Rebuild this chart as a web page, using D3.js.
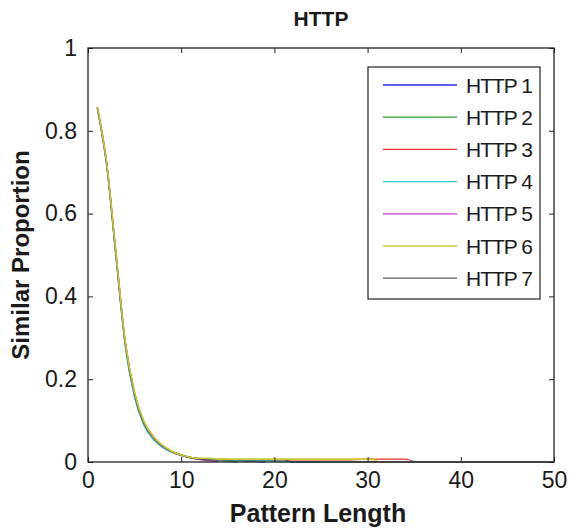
<!DOCTYPE html>
<html>
<head>
<meta charset="utf-8">
<script src="https://cdnjs.cloudflare.com/ajax/libs/d3/7.8.5/d3.min.js"></script>
<style>
  body { margin: 0; background: #fff; }
  text { font-family: "Liberation Sans", Arial, sans-serif; fill: #1a1a1a; }
</style>
</head>
<body>
<div id="chart"></div>
<script>
// similar proportion by pattern length (x = 1, 2, 3, ...)
var http1 = [0.855, 0.718, 0.497, 0.282, 0.158, 0.090, 0.056, 0.036, 0.024, 0.016, 0.010, 0.007,
             0.006, 0.005, 0.004, 0.003, 0.002, 0.001, 0];
var http2 = [0.856, 0.721, 0.501, 0.287, 0.163, 0.094, 0.058, 0.038, 0.025, 0.017, 0.011, 0.008,
             0.006, 0.004, 0.002, 0];
var http3 = [0.857, 0.723, 0.505, 0.290, 0.167, 0.097, 0.062, 0.040, 0.026, 0.017, 0.011, 0.008,
             0.007, 0.006, 0.006, 0.005, 0.005, 0.005, 0.005, 0.005, 0.005, 0.005, 0.005, 0.005,
             0.005, 0.005, 0.005, 0.005, 0.006, 0.007, 0.007, 0.007, 0.007, 0.007, 0.001];
var http4 = [0.853, 0.716, 0.494, 0.280, 0.156, 0.089, 0.055, 0.036, 0.024, 0.016, 0.010, 0.007,
             0.006, 0.005, 0.005, 0.004, 0.004, 0.003, 0.003, 0.002, 0.001, 0, 0, 0, 0];
var http5 = [0.857, 0.722, 0.503, 0.289, 0.166, 0.097, 0.061, 0.039, 0.025, 0.016, 0.010, 0.006,
             0.003, 0.001];
var http6 = [0.858, 0.724, 0.506, 0.291, 0.168, 0.098, 0.061, 0.040, 0.026, 0.017, 0.011, 0.009,
             0.009, 0.007, 0.007, 0.007, 0.007, 0.007, 0.007, 0.007, 0.007, 0.007, 0.007, 0.007,
             0.007, 0.007, 0.007, 0.007, 0.007, 0.007, 0.004];
var http7 = [0.855, 0.720, 0.500, 0.285, 0.162, 0.093, 0.058, 0.038, 0.025, 0.017, 0.010, 0.007,
             0.005, 0.005, 0.005, 0.005, 0.005, 0.005, 0.005, 0.005, 0.005, 0, 0, 0, 0,
             0, 0, 0, 0, 0, 0, 0, 0, 0, 0, 0, 0, 0, 0, 0, 0, 0, 0, 0, 0, 0, 0, 0, 0, 0];

var seriesNames = ["HTTP 1", "HTTP 2", "HTTP 3", "HTTP 4", "HTTP 5", "HTTP 6", "HTTP 7"];
var seriesColors = ["#2b2bf0", "#2e9a2e", "#f03333", "#2ec8c8", "#c83cc8", "#c8c82e", "#5a5a5a"];
var seriesValues = [http1, http2, http3, http4, http5, http6, http7];
// the yellow trace sits on top of the others in the picture
var drawOrder = [0, 1, 2, 3, 4, 6, 5];

var xTicks = [0, 10, 20, 30, 40, 50];
var yTicks = [0, 0.2, 0.4, 0.6, 0.8, 1];

var W = 569, H = 529;
var plotL = 88, plotR = 554, plotT = 48, plotB = 462;

var svg = d3.select("#chart").append("svg")
  .attr("width", W)
  .attr("height", H);

var x = d3.scaleLinear().domain([0, 50]).range([plotL, plotR]);
var y = d3.scaleLinear().domain([0, 1]).range([plotB, plotT]);

// lines
var line = d3.line()
  .x(function (d, i) { return x(i + 1); })
  .y(function (d) { return y(d); })
  .curve(d3.curveMonotoneX);

svg.append("g")
  .selectAll("path")
  .data(drawOrder)
  .enter()
  .append("path")
  .attr("d", function (k) { return line(seriesValues[k]); })
  .attr("fill", "none")
  .attr("stroke", function (k) { return seriesColors[k]; })
  .attr("stroke-width", function (k) { return k === 5 ? 1.6 : 1.3; });

// axes (matlab style: ticks inside, box all round)
var tickLen = 5;
svg.append("g")
  .attr("transform", "translate(0," + plotB + ")")
  .call(d3.axisBottom(x).tickValues(xTicks).tickSize(-tickLen).tickPadding(10)
        .tickFormat(d3.format("d")));
svg.append("g")
  .attr("transform", "translate(0," + plotT + ")")
  .call(d3.axisTop(x).tickValues(xTicks).tickSize(-tickLen).tickFormat(""));
svg.append("g")
  .attr("transform", "translate(" + plotL + ",0)")
  .call(d3.axisLeft(y).tickValues(yTicks).tickSize(-tickLen).tickPadding(11)
        .tickFormat(function (d) { return d === 0 || d === 1 ? d3.format("d")(d) : d3.format(".1f")(d); }));
svg.append("g")
  .attr("transform", "translate(" + plotR + ",0)")
  .call(d3.axisRight(y).tickValues(yTicks).tickSize(-tickLen).tickFormat(""));

svg.selectAll(".domain").remove();
svg.selectAll(".tick line").attr("stroke", "#222").attr("stroke-width", 1);
svg.selectAll(".tick text")
  .style("font-size", "23px")
  .style("font-family", "'Liberation Sans', Arial, sans-serif")
  .attr("fill", "#1a1a1a");

svg.append("rect")
  .attr("x", plotL)
  .attr("y", plotT)
  .attr("width", plotR - plotL)
  .attr("height", plotB - plotT)
  .attr("fill", "none")
  .attr("stroke", "#222")
  .attr("stroke-width", 1.3);

// title and axis labels
svg.append("text")
  .attr("x", (plotL + plotR) / 2)
  .attr("y", 26)
  .attr("text-anchor", "middle")
  .style("font-size", "21px")
  .style("font-weight", "bold")
  .text("HTTP");

svg.append("text")
  .attr("x", 318)
  .attr("y", 522)
  .attr("text-anchor", "middle")
  .style("font-size", "25px")
  .style("font-weight", "bold")
  .text("Pattern Length");

svg.append("text")
  .attr("transform", "translate(29," + ((plotT + plotB) / 2) + ") rotate(-90)")
  .attr("text-anchor", "middle")
  .style("font-size", "24px")
  .style("font-weight", "bold")
  .text("Similar Proportion");

// legend
var legend = svg.append("g");
legend.append("rect")
  .attr("x", 368)
  .attr("y", 67)
  .attr("width", 172)
  .attr("height", 232)
  .attr("fill", "#fff")
  .attr("stroke", "#222")
  .attr("stroke-width", 1.2);

var rows = legend.selectAll("g.row")
  .data(seriesNames)
  .enter()
  .append("g")
  .attr("class", "row")
  .attr("transform", function (d, i) { return "translate(0," + (85 + i * 32.2) + ")"; });

rows.append("line")
  .attr("x1", 383)
  .attr("x2", 457)
  .attr("stroke", function (d, i) { return seriesColors[i]; })
  .attr("stroke-width", 1.3);

rows.append("text")
  .attr("x", 466)
  .attr("y", 7.5)
  .style("font-size", "21px")
  .style("letter-spacing", "-1px")
  .text(function (d) { return d; });
</script>
</body>
</html>
